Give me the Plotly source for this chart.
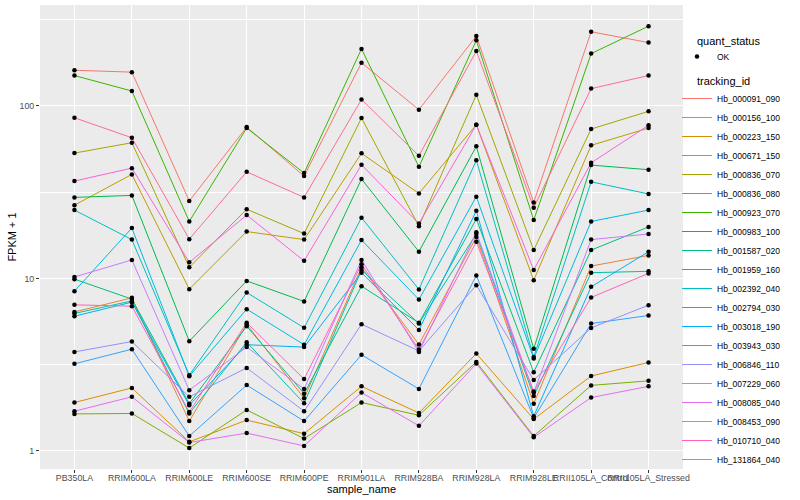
import plotly.graph_objects as go

samples = ["PB350LA", "RRIM600LA", "RRIM600LE", "RRIM600SE", "RRIM600PE", "RRIM901LA",
           "RRIM928BA", "RRIM928LA", "RRIM928LE", "RRII105LA_Control", "RRII105LA_Stressed"]

tracking_ids = ["Hb_000091_090", "Hb_000156_100", "Hb_000223_150", "Hb_000671_150", "Hb_000836_070",
                "Hb_000836_080", "Hb_000923_070", "Hb_000983_100", "Hb_001587_020", "Hb_001959_160",
                "Hb_002392_040", "Hb_002794_030", "Hb_003018_190", "Hb_003943_030", "Hb_006846_110",
                "Hb_007229_060", "Hb_008085_040", "Hb_008453_090", "Hb_010710_040", "Hb_131864_040"]

colors = ["#F8766D", "#EA8331", "#D89000", "#C09B00", "#A3A500", "#7CAE00", "#39B600", "#00BB4E",
          "#00BF7D", "#00C1A3", "#00BFC4", "#00BAE0", "#00B0F6", "#35A2FF", "#9590FF", "#C77CFF",
          "#E76BF3", "#FA62DB", "#FF62BC", "#FF6C91"]

# FPKM + 1 per sample (order of `samples`)
Hb_000091_090 = [161, 157, 28.1, 75.4, 39.2, 178, 95.1, 254, 27.6, 269, 233]
Hb_000156_100 = [6.40, 7.72, 1.49, 5.43, 2.02, 11.6, 4.14, 17.4, 1.88, 11.8, 13.6]
Hb_000223_150 = [1.91, 2.32, 1.13, 1.51, 1.26, 2.37, 1.66, 3.67, 1.53, 2.72, 3.26]
Hb_000671_150 = [26.6, 40.1, 8.67, 18.7, 16.8, 53.1, 31.1, 77.8, 9.77, 59.1, 74.4]
Hb_000836_070 = [53.3, 61.2, 11.6, 25.2, 18.2, 85.1, 20.1, 116, 14.6, 73.5, 93.0]
Hb_000836_080 = [1.64, 1.65, 1.04, 1.73, 1.18, 1.91, 1.61, 3.28, 1.22, 2.40, 2.55]
Hb_000923_070 = [150, 122, 21.4, 74.5, 40.8, 214, 44.4, 240, 21.8, 201, 290]
Hb_000983_100 = [29.5, 30.3, 4.33, 9.68, 7.36, 37.7, 14.3, 58.3, 3.91, 45.4, 42.7]
Hb_001587_020 = [9.91, 7.59, 1.88, 5.29, 2.15, 9.02, 5.53, 22.1, 2.86, 14.6, 19.9]
Hb_001959_160 = [6.27, 7.41, 1.65, 4.27, 1.89, 11.2, 5.48, 18.1, 2.08, 10.8, 11.0]
Hb_002392_040 = [24.9, 16.8, 2.75, 8.29, 5.18, 22.5, 8.64, 48.4, 3.50, 36.3, 30.9]
Hb_002794_030 = [8.44, 19.6, 2.71, 6.64, 4.13, 16.7, 7.55, 29.8, 3.44, 21.4, 24.9]
Hb_003018_190 = [6.04, 7.29, 1.84, 4.13, 4.00, 10.8, 5.03, 24.7, 1.59, 8.94, 14.3]
Hb_003943_030 = [3.20, 3.89, 1.22, 2.41, 1.49, 3.61, 2.29, 10.4, 1.55, 5.48, 6.10]
Hb_006846_110 = [3.75, 4.31, 2.06, 3.03, 1.70, 5.43, 3.80, 9.14, 2.58, 5.17, 7.00]
Hb_007229_060 = [10.2, 12.8, 2.25, 4.00, 2.29, 12.8, 3.75, 18.5, 2.18, 16.8, 18.1]
Hb_008085_040 = [1.70, 2.06, 1.12, 1.27, 1.07, 2.18, 1.40, 3.21, 1.20, 2.04, 2.37]
Hb_008453_090 = [36.7, 43.6, 12.4, 23.3, 12.65, 45.6, 20.8, 77.8, 11.2, 46.8, 77.2]
Hb_010710_040 = [7.03, 6.91, 1.68, 5.54, 2.61, 12.1, 3.87, 16.3, 2.21, 7.76, 10.7]
Hb_131864_040 = [85.4, 65.4, 16.9, 41.5, 29.5, 109, 51.4, 208, 25.7, 126, 150]

series = [Hb_000091_090, Hb_000156_100, Hb_000223_150, Hb_000671_150, Hb_000836_070,
          Hb_000836_080, Hb_000923_070, Hb_000983_100, Hb_001587_020, Hb_001959_160,
          Hb_002392_040, Hb_002794_030, Hb_003018_190, Hb_003943_030, Hb_006846_110,
          Hb_007229_060, Hb_008085_040, Hb_008453_090, Hb_010710_040, Hb_131864_040]

FONT = "Liberation Sans"
fig = go.Figure()

for tid, col, vals in zip(tracking_ids, colors, series):
    fig.add_trace(go.Scatter(x=samples, y=vals, mode="lines", name=tid,
                             line=dict(color=col, width=1), legend="legend2"))

all_x, all_y = [], []
for vals in series:
    all_x += samples
    all_y += vals
fig.add_trace(go.Scatter(x=all_x, y=all_y, mode="markers", name="OK",
                         marker=dict(color="black", size=4.5), legend="legend"))

fig.update_layout(
    width=800, height=500,
    margin=dict(l=40, r=116.5, t=5, b=31.3, autoexpand=False),
    paper_bgcolor="white", plot_bgcolor="#EBEBEB",
    font=dict(family=FONT, size=9, color="#4D4D4D"),
    showlegend=True,
    legend=dict(xref="container", yref="container", x=677 / 800, y=1 - 42 / 500,
                xanchor="left", yanchor="top", font=dict(size=8.5, color="black"),
                bgcolor="rgba(0,0,0,0)", itemwidth=30),
    legend2=dict(xref="container", yref="container", x=677 / 800, y=1 - 84 / 500,
                 xanchor="left", yanchor="top", font=dict(size=8.5, color="black"),
                 bgcolor="rgba(0,0,0,0)", itemwidth=30, tracegroupgap=0, maxheight=490),
    annotations=[
        dict(text="quant_status", xref="paper", yref="paper", x=(696 - 40) / 643.5,
             y=(500 - 31.3 - 40.7) / 463.7, xanchor="left", yanchor="middle",
             showarrow=False, font=dict(size=11, color="black", family=FONT)),
        dict(text="tracking_id", xref="paper", yref="paper", x=(696 - 40) / 643.5,
             y=(500 - 31.3 - 80.5) / 463.7, xanchor="left", yanchor="middle",
             showarrow=False, font=dict(size=11, color="black", family=FONT)),
    ],
)

fig.update_xaxes(type="category", range=[-0.6, 10.6], showgrid=True, gridcolor="white",
                 gridwidth=1.1, ticks="outside", ticklen=3, tickcolor="#333333",
                 tickangle=0, tickfont=dict(size=8.8, color="#4D4D4D"), automargin=False,
                 ticklabelstandoff=-3,
                 title=dict(text="sample_name", font=dict(size=11, color="black"), standoff=0),
                 zeroline=False, showline=False)
fig.update_yaxes(type="log", range=[-0.1044, 2.585], showgrid=True, gridcolor="white",
                 gridwidth=1.1, tickvals=[1, 10, 100], ticktext=["1", "10", "100"],
                 ticks="outside", ticklen=3, tickcolor="#333333", automargin=False,
                 tickfont=dict(size=8.8, color="#4D4D4D"),
                 minor=dict(tickvals=[3.1623, 31.623, 316.23], showgrid=True,
                            gridcolor="white", gridwidth=0.5, ticks=""),
                 title=dict(text="FPKM + 1", font=dict(size=11, color="black"), standoff=0),
                 zeroline=False, showline=False)

fig.write_html("out.html", config={"displayModeBar": False},
               post_script="document.body.style.margin='0';document.body.style.padding='0';"
                           "document.documentElement.style.overflow='hidden';")
